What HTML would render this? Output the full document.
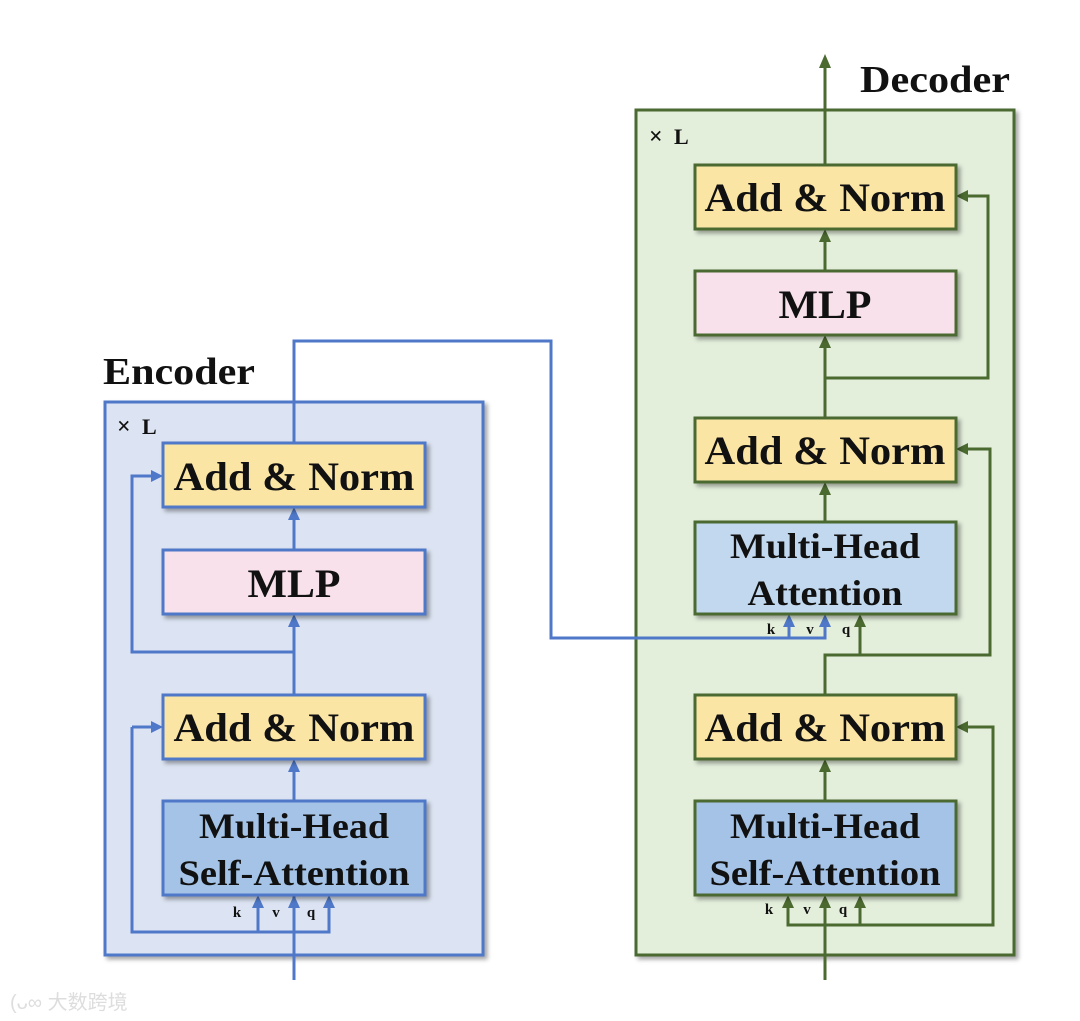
<!DOCTYPE html>
<html><head><meta charset="utf-8"><style>
html,body{margin:0;padding:0;background:#fff;}
svg{display:block}
.t{font-family:"Liberation Serif",serif;font-weight:bold;fill:#111;}
</style></head><body>
<svg width="1080" height="1021" viewBox="0 0 1080 1021" xmlns="http://www.w3.org/2000/svg">
<defs>
<filter id="sh" x="-10%" y="-10%" width="130%" height="140%"><feDropShadow dx="3" dy="3" stdDeviation="2" flood-color="#000" flood-opacity="0.35"/></filter>
</defs>
<rect x="105" y="402" width="378" height="553" fill="#dce3f2" stroke="#4f79c8" stroke-width="3" filter="url(#sh)"/>
<rect x="636" y="110" width="378" height="845" fill="#e3eedb" stroke="#4b6a30" stroke-width="3" filter="url(#sh)"/>
<text x="103" y="384" class="t" font-size="38" textLength="152" lengthAdjust="spacingAndGlyphs">Encoder</text>
<text x="860" y="92" class="t" font-size="38" textLength="150" lengthAdjust="spacingAndGlyphs">Decoder</text>
<text x="117" y="434" class="t" font-size="24" font-weight="normal">×</text><text x="142" y="434" class="t" font-size="22">L</text>
<text x="649" y="144" class="t" font-size="24" font-weight="normal">×</text><text x="674" y="144" class="t" font-size="22">L</text>

<g stroke="#4f79c8" stroke-width="3" fill="none">
<polyline points="294,980 294,895"/>
<polyline points="132,727 132,932 329,932 329,900"/>
<polyline points="258,932 258,900"/>
<polyline points="132,727 156,727"/>
<polyline points="294,801 294,764"/>
<polyline points="294,695 294,619"/>
<polyline points="294,652 132,652 132,476 156,476"/>
<polyline points="294,550 294,512"/>
<polyline points="294,443 294,341 551,341 551,638 825,638 825,619"/>
<polyline points="789,638 789,619"/>
</g>
<g fill="#4f79c8">
<polygon points="163,727 151,721 151,733"/>
<polygon points="163,476 151,470 151,482"/>
<polygon points="294,759 288,772 300,772"/>
<polygon points="294,614 288,627 300,627"/>
<polygon points="294,507 288,520 300,520"/>
<polygon points="258,895 252,908 264,908"/>
<polygon points="294,895 288,908 300,908"/>
<polygon points="329,895 323,908 335,908"/>
<polygon points="789,614 783,627 795,627"/>
<polygon points="825,614 819,627 831,627"/>
</g>

<g stroke="#4b6a30" stroke-width="3" fill="none">
<polyline points="825,980 825,900"/>
<polyline points="788,900 788,925 993,925 993,727 961,727"/>
<polyline points="860,925 860,900"/>
<polyline points="825,801 825,764"/>
<polyline points="825,695 825,655 860,655 860,619"/>
<polyline points="860,655 990,655 990,449 961,449"/>
<polyline points="825,522 825,487"/>
<polyline points="825,418 825,340"/>
<polyline points="825,378 988,378 988,196 961,196"/>
<polyline points="825,271 825,234"/>
<polyline points="825,165 825,62"/>
</g>
<g fill="#4b6a30">
<polygon points="956,727 968,721 968,733"/>
<polygon points="956,449 968,443 968,455"/>
<polygon points="956,196 968,190 968,202"/>
<polygon points="788,895 782,908 794,908"/>
<polygon points="825,895 819,908 831,908"/>
<polygon points="860,895 854,908 866,908"/>
<polygon points="825,759 819,772 831,772"/>
<polygon points="860,614 854,627 866,627"/>
<polygon points="825,482 819,495 831,495"/>
<polygon points="825,335 819,348 831,348"/>
<polygon points="825,229 819,242 831,242"/>
<polygon points="825,54 819,68 831,68"/>
</g>

<g stroke="#4f79c8" stroke-width="3" filter="url(#sh)">
<rect x="163" y="443" width="262" height="64" fill="#fbe5a5"/>
<rect x="163" y="550" width="262" height="64" fill="#f8e1ea"/>
<rect x="163" y="695" width="262" height="64" fill="#fbe5a5"/>
<rect x="163" y="801" width="262" height="94" fill="#a4c3e6"/>
</g>
<g stroke="#4b6a30" stroke-width="3" filter="url(#sh)">
<rect x="695" y="165" width="261" height="64" fill="#fbe5a5"/>
<rect x="695" y="271" width="261" height="64" fill="#f8e1ea"/>
<rect x="695" y="418" width="261" height="64" fill="#fbe5a5"/>
<rect x="695" y="522" width="261" height="92" fill="#c1d8ee"/>
<rect x="695" y="695" width="261" height="64" fill="#fbe5a5"/>
<rect x="695" y="801" width="261" height="94" fill="#a4c3e6"/>
</g>

<g class="t" font-size="40" text-anchor="middle" lengthAdjust="spacingAndGlyphs">
<text x="294" y="490" textLength="241" lengthAdjust="spacingAndGlyphs">Add &amp; Norm</text>
<text x="294" y="597" textLength="93" lengthAdjust="spacingAndGlyphs">MLP</text>
<text x="294" y="741" textLength="241" lengthAdjust="spacingAndGlyphs">Add &amp; Norm</text>
<text x="294" y="838" font-size="36" textLength="190" lengthAdjust="spacingAndGlyphs">Multi-Head</text>
<text x="294" y="885" font-size="36" textLength="231" lengthAdjust="spacingAndGlyphs">Self-Attention</text>
<text x="825" y="211" textLength="241" lengthAdjust="spacingAndGlyphs">Add &amp; Norm</text>
<text x="825" y="318" textLength="93" lengthAdjust="spacingAndGlyphs">MLP</text>
<text x="825" y="464" textLength="241" lengthAdjust="spacingAndGlyphs">Add &amp; Norm</text>
<text x="825" y="558" font-size="36" textLength="190" lengthAdjust="spacingAndGlyphs">Multi-Head</text>
<text x="825" y="605" font-size="36" textLength="155" lengthAdjust="spacingAndGlyphs">Attention</text>
<text x="825" y="741" textLength="241" lengthAdjust="spacingAndGlyphs">Add &amp; Norm</text>
<text x="825" y="838" font-size="36" textLength="190" lengthAdjust="spacingAndGlyphs">Multi-Head</text>
<text x="825" y="885" font-size="36" textLength="231" lengthAdjust="spacingAndGlyphs">Self-Attention</text>
</g>
<g class="t" font-size="15" text-anchor="middle">
<text x="237" y="917">k</text><text x="276" y="917">v</text><text x="311" y="917">q</text>
<text x="771" y="634">k</text><text x="810" y="634">v</text><text x="846" y="634">q</text>
<text x="769" y="914">k</text><text x="807" y="914">v</text><text x="843" y="914">q</text>
</g>
<text x="10" y="1009" font-family="'Liberation Sans','Noto Sans CJK SC',sans-serif" font-size="20" fill="#ddd">(ᴗ∞ 大数跨境</text>
</svg>
</body></html>
